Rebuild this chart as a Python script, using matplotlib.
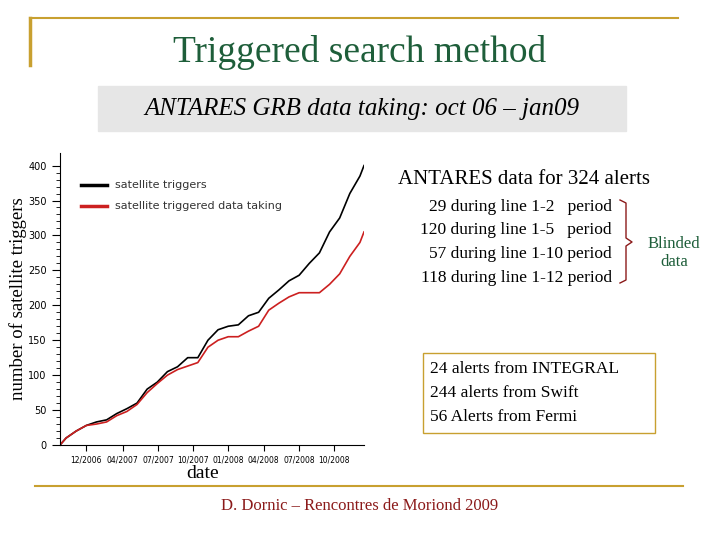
import matplotlib
matplotlib.use("Agg")
import matplotlib.pyplot as plt
from matplotlib.patches import Rectangle
from matplotlib.lines import Line2D

months = [-0.6, 0, 1, 2, 3, 4, 5, 6, 7, 8, 9, 10, 11, 12, 13, 14, 15, 16, 17, 18, 19, 20, 21, 22, 23, 24, 25, 26, 27, 28, 29, 29.4]
black = [0, 10, 20, 28, 33, 36, 45, 52, 60, 80, 90, 105, 112, 125, 125, 150, 165, 170, 172, 185, 190, 210, 222, 235, 243, 260, 275, 305, 325, 360, 385, 400]
red = [0, 10, 20, 28, 30, 33, 42, 48, 58, 75, 88, 100, 108, 113, 118, 140, 150, 155, 155, 163, 170, 193, 203, 212, 218, 218, 218, 230, 245, 270, 290, 305]
tick_lab = ["12/2006", "04/2007", "07/2007", "10/2007", "01/2008", "04/2008", "07/2008", "10/2008"]
tick_pos = [2, 5.6, 9.1, 12.5, 16, 19.5, 23, 26.4]

fig = plt.figure(figsize=(7.2, 5.4), dpi=100)
gold = "#c8a030"
def fx(x): return x / 720
def fy(y): return 1 - y / 540
fig.add_artist(Line2D([fx(30), fx(30)], [fy(18), fy(65)], color=gold, lw=2.5))
fig.add_artist(Line2D([fx(30), fx(678)], [fy(18), fy(18)], color=gold, lw=1.5))
fig.add_artist(Line2D([fx(35), fx(683)], [fy(486), fy(486)], color=gold, lw=1.5))
fig.text(0.5, fy(52), "Triggered search method", ha="center", va="center", fontsize=27, family="Liberation Serif", color="#1e5e3a")
fig.add_artist(Rectangle((fx(98), fy(131)), 528/720, 45/540, color="#e6e6e6", transform=fig.transFigure))
fig.text(fx(362), fy(109), "ANTARES GRB data taking: oct 06 – jan09", ha="center", va="center", fontsize=18, family="Liberation Serif", style="italic")
fig.text(fx(524), fy(180), "ANTARES data for 324 alerts", ha="center", va="center", fontsize=15, family="Liberation Serif")
for i, s in enumerate(["29 during line 1-2   period", "120 during line 1-5   period", "57 during line 1-10 period", "118 during line 1-12 period"]):
    fig.text(fx(612), fy(207 + 23.5 * i), s, ha="right", va="center", fontsize=12.5, family="Liberation Serif")
fig.text(fx(674), fy(253), "Blinded\ndata", ha="center", va="center", fontsize=12, family="Liberation Serif", color="#1e5e3a")
bx = [620, 626, 626, 632, 626, 626, 620]
by = [200, 203, 238, 242, 246, 280, 283]
fig.add_artist(Line2D([fx(v) for v in bx], [fy(v) for v in by], color="#8b1a1a", lw=1))
fig.add_artist(Rectangle((fx(423), fy(433)), 232/720, 80/540, fill=False, ec=gold, lw=1, transform=fig.transFigure))
for i, s in enumerate(["24 alerts from INTEGRAL", "244 alerts from Swift", "56 Alerts from Fermi"]):
    fig.text(fx(430), fy(369 + 24 * i), s, ha="left", va="center", fontsize=12.5, family="Liberation Serif")
fig.text(fx(360), fy(506), "D. Dornic – Rencontres de Moriond 2009", ha="center", va="center", fontsize=12, family="Liberation Serif", color="#8b1a1a")

ax = fig.add_axes([fx(60), fy(445), 304/720, 292/540])
ax.plot(months, black, color="black", lw=1.2)
ax.plot(months, red, color="#cc2020", lw=1.2)
ax.set_xlim(-0.6, 29.4)
ax.set_ylim(0, 418)
ax.set_xticks(tick_pos)
ax.set_xticklabels(tick_lab, fontsize=5.5)
ax.set_yticks(range(0, 401, 50))
ax.set_yticks(range(0, 401, 10), minor=True)
ax.tick_params(axis="y", labelsize=7, direction="out", length=6)
ax.tick_params(axis="y", which="minor", length=3)
ax.tick_params(axis="x", length=4)
for sp in ["top", "right"]:
    ax.spines[sp].set_visible(False)
ax.set_xlabel("date", fontsize=14, family="Liberation Serif")
ax.xaxis.set_label_coords(0.47, -0.07)
ax.set_ylabel("number of satellite triggers", fontsize=13.5, family="Liberation Serif")
ax.yaxis.set_label_coords(-0.11, 0.5)
ax.plot([1.5, 4.0], [372, 372], color="black", lw=2.5)
ax.plot([1.5, 4.0], [342, 342], color="#cc2020", lw=2.5)
ax.text(4.8, 372, "satellite triggers", fontsize=8, va="center", color="#333333")
ax.text(4.8, 342, "satellite triggered data taking", fontsize=8, va="center", color="#333333")
fig.savefig("out.png", dpi=100)
